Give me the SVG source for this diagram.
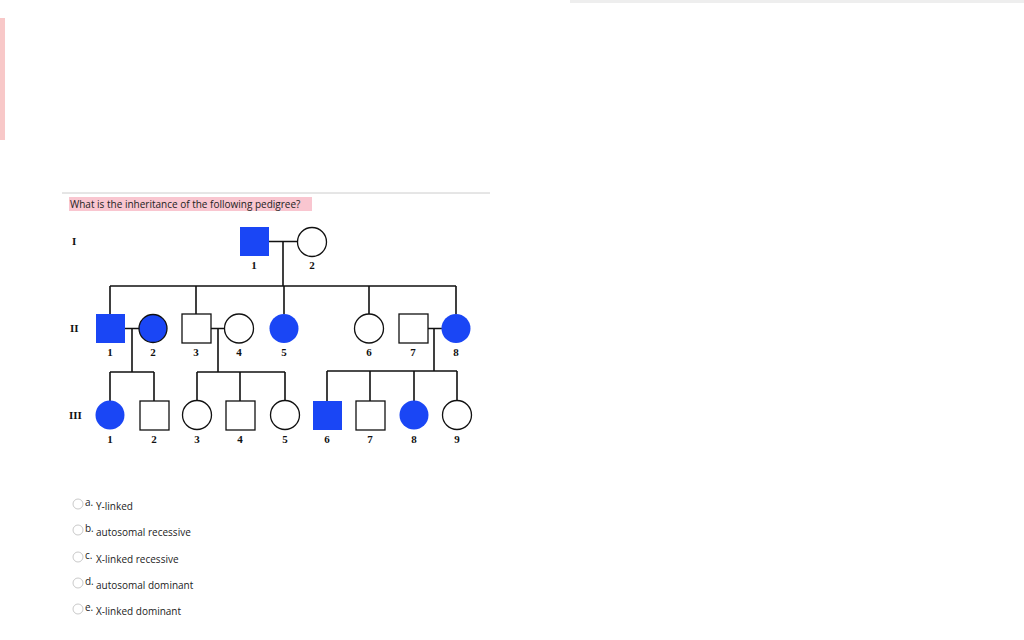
<svg xmlns="http://www.w3.org/2000/svg" width="1024" height="640" viewBox="0 0 1024 640">
<style>
.ln{stroke:#111;stroke-width:1.6;fill:none}
.e{fill:#fff;stroke:#111;stroke-width:1.3}
.a{fill:#1a46f5;stroke:none}
.n{font-family:"Liberation Serif",serif;font-weight:bold;font-size:11px;text-anchor:middle;fill:#111}
.r{font-family:"Liberation Serif",serif;font-weight:bold;font-size:11px;fill:#111}
.t{font-family:"Open Sans","Liberation Sans",sans-serif;font-size:10px;fill:#222}
.o{fill:#fff;stroke:#bbb;stroke-width:0.8}
</style>
<rect width="1024" height="640" fill="#fff"/>
<rect x="570" y="0" width="454" height="3" fill="#eee"/>
<rect x="0" y="18" width="5" height="122" fill="#f8c8c8"/>
<line x1="62" y1="193" x2="490" y2="193" stroke="#ccc" stroke-width="1"/>
<rect x="69" y="197" width="243" height="14" fill="#f9c6d0"/>
<text class="t" x="70" y="208">What is the inheritance of the following pedigree?</text>
<text class="r" x="72" y="245">I</text>
<text class="r" x="70" y="332">II</text>
<text class="r" x="69" y="419">III</text>
<g id="connectors" class="ln">
<path d="M269 241.5H298M283 241.5V286M110 286H456M110 286V314M196 286V314M284 286V314M369 286V314M456 286V314"/>
<path d="M125 328.5H139M132 328.5V372M110 372H154M110 372V401M154 372V401"/>
<path d="M211 328.5H225M218 328.5V372M197 372H285M197 372V401M240 372V401M285 372V401"/>
<path d="M428 328.5H442M434 328.5V371M327 371H457M327 371V401M370 371V401M414 371V401M457 371V401"/>
</g>
<g id="I-1"><rect class="a" x="240" y="227" width="29" height="29"/><text class="n" x="254" y="269">1</text></g>
<g id="I-2"><circle class="e" cx="312" cy="242" r="14.5"/><text class="n" x="312" y="269">2</text></g>
<g id="II-1"><rect class="a" x="96" y="314" width="29" height="29"/><text class="n" x="110" y="356">1</text></g>
<g id="II-2"><circle fill="#1a46f5" stroke="#111" stroke-width="1.3" cx="153" cy="328.5" r="14"/><text class="n" x="153" y="356">2</text></g>
<g id="II-3"><rect class="e" x="182" y="314" width="29" height="29"/><text class="n" x="196" y="356">3</text></g>
<g id="II-4"><circle class="e" cx="239" cy="328.5" r="14.5"/><text class="n" x="239" y="356">4</text></g>
<g id="II-5"><circle class="a" cx="284" cy="328.5" r="14.5"/><text class="n" x="284" y="356">5</text></g>
<g id="II-6"><circle class="e" cx="369" cy="328.5" r="14.5"/><text class="n" x="369" y="356">6</text></g>
<g id="II-7"><rect class="e" x="399" y="314" width="29" height="29"/><text class="n" x="413" y="356">7</text></g>
<g id="II-8"><circle class="a" cx="456" cy="328.5" r="14.5"/><text class="n" x="456" y="356">8</text></g>
<g id="III-1"><circle class="a" cx="110" cy="415" r="14.5"/><text class="n" x="110" y="443">1</text></g>
<g id="III-2"><rect class="e" x="140" y="401" width="29" height="29"/><text class="n" x="154" y="443">2</text></g>
<g id="III-3"><circle class="e" cx="197" cy="415" r="14.5"/><text class="n" x="197" y="443">3</text></g>
<g id="III-4"><rect class="e" x="226" y="401" width="29" height="29"/><text class="n" x="240" y="443">4</text></g>
<g id="III-5"><circle class="e" cx="285" cy="415" r="14.5"/><text class="n" x="285" y="443">5</text></g>
<g id="III-6"><rect class="a" x="313" y="401" width="29" height="29"/><text class="n" x="327" y="443">6</text></g>
<g id="III-7"><rect class="e" x="356" y="401" width="29" height="29"/><text class="n" x="370" y="443">7</text></g>
<g id="III-8"><circle class="a" cx="414" cy="415" r="14.5"/><text class="n" x="414" y="443">8</text></g>
<g id="III-9"><circle class="e" cx="457" cy="415" r="14.5"/><text class="n" x="457" y="443">9</text></g>
<g id="options">
<circle class="o" cx="78" cy="504" r="5"/><text class="t" x="85" y="506">a.</text><text class="t" x="96" y="510">Y-linked</text>
<circle class="o" cx="78" cy="530" r="5"/><text class="t" x="85" y="532">b.</text><text class="t" x="96" y="536">autosomal recessive</text>
<circle class="o" cx="78" cy="557" r="5"/><text class="t" x="85" y="559">c.</text><text class="t" x="96" y="563">X-linked recessive</text>
<circle class="o" cx="78" cy="583" r="5"/><text class="t" x="85" y="585">d.</text><text class="t" x="96" y="589">autosomal dominant</text>
<circle class="o" cx="78" cy="609" r="5"/><text class="t" x="85" y="611">e.</text><text class="t" x="96" y="615">X-linked dominant</text>
</g>
</svg>
